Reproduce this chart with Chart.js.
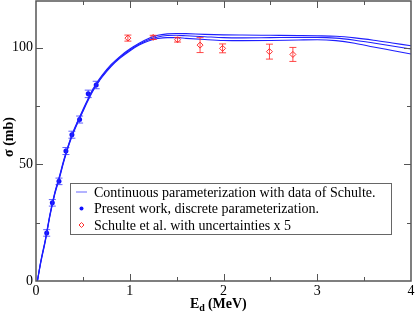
<!DOCTYPE html>
<html>
<head>
<title>sigma vs Ed</title>
<script src="https://cdn.jsdelivr.net/npm/chart.js"></script>
<style>
  html, body { margin: 0; padding: 0; background: #fff; }
  #wrap { width: 415px; height: 315px; }
</style>
</head>
<body>
<div id="wrap"><canvas id="sigmaChart" width="415" height="315"></canvas></div>
<script>
// axis ticks
const xTicks = [0, 1, 2, 3, 4];
const xMinor = [0.5, 1.5, 2.5, 3.5];
const yTicks = [0, 50, 100];
const yMinor = [25, 75];

// continuous parameterization (three curves)
const curveX = [0.015, 0.05, 0.1, 0.15, 0.2, 0.25, 0.3, 0.35, 0.4, 0.45, 0.5, 0.55, 0.6, 0.65, 0.7, 0.8, 0.9, 1.0, 1.1, 1.2, 1.3, 1.4, 1.5, 1.6, 1.8, 2.0, 2.2, 2.5, 2.8, 3.0, 3.2, 3.4, 3.6, 3.8, 4.0];
const curveMid = [0, 8, 17.5, 28.5, 37.5, 44.5, 52, 58.5, 64, 68.6, 73, 77.3, 81.3, 84.6, 87.5, 92.3, 96.0, 99.0, 101.5, 103.4, 104.6, 105.2, 105.3, 105.1, 104.7, 104.3, 104.2, 104.3, 104.4, 104.4, 104.1, 103.2, 102.0, 100.7, 99.4];
const curveUp = [0, 8.3, 17.9, 28.9, 37.9, 44.9, 52.4, 58.9, 64.4, 69.0, 73.4, 77.7, 81.7, 85.0, 87.9, 92.7, 96.4, 99.4, 101.9, 103.9, 105.3, 105.9, 106.1, 106.0, 105.7, 105.5, 105.4, 105.3, 105.2, 105.1, 104.9, 104.2, 103.2, 102.0, 100.8];
const curveLow = [0, 7.7, 17.1, 28.1, 37.1, 44.1, 51.6, 58.1, 63.6, 68.2, 72.6, 76.9, 80.9, 84.2, 87.1, 91.9, 95.6, 98.6, 101.1, 102.9, 103.9, 104.3, 104.3, 104.0, 103.5, 103.1, 103.0, 103.1, 103.3, 103.4, 103.0, 101.9, 100.3, 98.8, 97.3];

// present work, discrete parameterization
const presentE = [0.114, 0.174, 0.245, 0.319, 0.383, 0.465, 0.557, 0.642];
const presentS = [20.6, 33.5, 42.7, 55.7, 62.7, 69.2, 80.2, 84.0];
const presentErr = [1.4, 1.4, 1.4, 1.5, 1.5, 1.5, 1.6, 1.6];

// Schulte et al. (uncertainties x 5)
const schulteE = [0.98, 1.25, 1.51, 1.75, 1.99, 2.49, 2.74];
const schulteS = [104.1, 104.4, 103.4, 101.1, 99.7, 98.3, 97.1];
const schulteErr = [1.3, 0.9, 1.0, 3.2, 1.9, 3.2, 3.0];

const labels = [
  'Continuous parameterization with data of Schulte.',
  'Present work, discrete parameterization.',
  'Schulte et al. with uncertainties x 5'
];

const serif = "'Liberation Serif', 'DejaVu Serif', serif";
const frameColor = '#555';

function pts(xs, ys) {
  return xs.map((x, i) => ({ x: x, y: ys[i] }));
}

function curveSet(ys, label) {
  return {
    label: label,
    data: pts(curveX, ys),
    showLine: true,
    borderColor: '#1e1eff',
    borderWidth: 1.1,
    pointRadius: 0,
    fill: false,
    cubicInterpolationMode: 'monotone'
  };
}

// error bars, frame ticks, axis titles, legend box
const extras = {
  id: 'extras',
  afterDatasetsDraw(chart) {
    const ctx = chart.ctx;
    const xs = chart.scales.x, ys = chart.scales.y;
    const bars = (E, S, Err, color, cap) => {
      ctx.save();
      ctx.strokeStyle = color;
      ctx.lineWidth = 1;
      E.forEach((e, i) => {
        const px = xs.getPixelForValue(e);
        const top = ys.getPixelForValue(S[i] + Err[i]);
        const bot = ys.getPixelForValue(S[i] - Err[i]);
        ctx.beginPath();
        ctx.moveTo(px, top); ctx.lineTo(px, bot);
        ctx.moveTo(px - cap, top); ctx.lineTo(px + cap, top);
        ctx.moveTo(px - cap, bot); ctx.lineTo(px + cap, bot);
        ctx.stroke();
      });
      ctx.restore();
    };
    bars(presentE, presentS, presentErr, 'rgba(40,40,255,0.75)', 3.5);
    bars(schulteE, schulteS, schulteErr, 'rgba(255,40,40,0.85)', 3.5);
  },
  afterDraw(chart) {
    const ctx = chart.ctx;
    const a = chart.chartArea;
    const xs = chart.scales.x, ys = chart.scales.y;
    ctx.save();
    // frame
    ctx.strokeStyle = frameColor;
    ctx.lineWidth = 1.5;
    ctx.strokeRect(a.left, a.top, a.right - a.left, a.bottom - a.top);
    // inward ticks on all sides
    ctx.lineWidth = 1;
    ctx.beginPath();
    const xt = (v, len) => {
      const p = Math.round(xs.getPixelForValue(v)) + 0.5;
      ctx.moveTo(p, a.bottom); ctx.lineTo(p, a.bottom - len);
      ctx.moveTo(p, a.top); ctx.lineTo(p, a.top + len);
    };
    const yt = (v, len) => {
      const p = Math.round(ys.getPixelForValue(v)) + 0.5;
      ctx.moveTo(a.left, p); ctx.lineTo(a.left + len, p);
      ctx.moveTo(a.right, p); ctx.lineTo(a.right - len, p);
    };
    xTicks.slice(1, -1).forEach(v => xt(v, 7));
    xMinor.forEach(v => xt(v, 4));
    yTicks.slice(1).forEach(v => yt(v, 7));
    yMinor.forEach(v => yt(v, 4));
    ctx.stroke();

    // axis titles
    ctx.fillStyle = '#000';
    ctx.font = 'bold 14px ' + serif;
    ctx.textBaseline = 'alphabetic';
    ctx.save();
    ctx.translate(13, 137);
    ctx.rotate(-Math.PI / 2);
    ctx.textAlign = 'center';
    ctx.fillText('\u03c3 (mb)', 0, 0);
    ctx.restore();

    ctx.textAlign = 'left';
    let tx = 190, ty = 308;
    ctx.fillText('E', tx, ty);
    tx += ctx.measureText('E').width;
    ctx.font = 'bold 10px ' + serif;
    ctx.fillText('d', tx, ty + 3);
    tx += ctx.measureText('d').width + 3;
    ctx.font = 'bold 14px ' + serif;
    ctx.fillText('(MeV)', tx, ty);

    // legend
    const lx = 70.5, ly = 183.5, lw = 321, lh = 51;
    ctx.fillStyle = '#fff';
    ctx.fillRect(lx, ly, lw, lh);
    ctx.strokeStyle = '#666';
    ctx.lineWidth = 1;
    ctx.strokeRect(lx, ly, lw, lh);
    const rows = [192, 208.5, 225];
    ctx.font = '14px ' + serif;
    ctx.textBaseline = 'middle';
    ctx.fillStyle = '#000';
    labels.forEach((t, i) => ctx.fillText(t, 94, rows[i] + 1));
    // legend markers
    ctx.strokeStyle = '#9a9aff';
    ctx.lineWidth = 1.5;
    ctx.beginPath();
    ctx.moveTo(76, rows[0]); ctx.lineTo(87, rows[0]);
    ctx.stroke();
    ctx.fillStyle = '#1010ff';
    ctx.beginPath();
    ctx.arc(81.5, rows[1], 2, 0, Math.PI * 2);
    ctx.fill();
    ctx.strokeStyle = '#ff3030';
    ctx.lineWidth = 1;
    ctx.beginPath();
    ctx.moveTo(81.5, rows[2] - 2.5); ctx.lineTo(84, rows[2]);
    ctx.lineTo(81.5, rows[2] + 2.5); ctx.lineTo(79, rows[2]);
    ctx.closePath();
    ctx.stroke();
    ctx.restore();
  }
};

const ctx = document.getElementById('sigmaChart').getContext('2d');
new Chart(ctx, {
  type: 'scatter',
  data: {
    datasets: [
      curveSet(curveUp, labels[0]),
      curveSet(curveMid, ''),
      curveSet(curveLow, ''),
      {
        label: labels[1],
        data: pts(presentE, presentS),
        pointStyle: 'circle',
        pointRadius: 2.5,
        pointBackgroundColor: '#1010ff',
        pointBorderColor: '#1010ff',
        pointBorderWidth: 0
      },
      {
        label: labels[2],
        data: pts(schulteE, schulteS),
        pointStyle: 'rectRot',
        pointRadius: 3,
        pointBackgroundColor: 'rgba(0,0,0,0)',
        pointBorderColor: '#ff3030',
        pointBorderWidth: 1
      }
    ]
  },
  options: {
    responsive: false,
    animation: false,
    layout: { autoPadding: false, padding: { left: 0, right: 4, top: 1, bottom: 0 } },
    plugins: {
      legend: { display: false },
      tooltip: { enabled: false }
    },
    scales: {
      x: {
        type: 'linear',
        min: 0,
        max: 4,
        afterBuildTicks: s => { s.ticks = xTicks.map(v => ({ value: v })); },
        afterFit: s => { s.height = 34; s.paddingLeft = 0; s.paddingRight = 0; },
        grid: { display: false, drawTicks: false },
        border: { display: false },
        ticks: { color: '#000', padding: 2, maxRotation: 0, font: { family: serif, size: 14 } }
      },
      y: {
        type: 'linear',
        min: 0,
        max: 120,
        afterBuildTicks: s => { s.ticks = yTicks.map(v => ({ value: v })); },
        afterFit: s => { s.width = 36; s.paddingTop = 0; s.paddingBottom = 0; },
        grid: { display: false, drawTicks: false },
        border: { display: false },
        ticks: { color: '#000', padding: 3, font: { family: serif, size: 14 } }
      }
    }
  },
  plugins: [extras]
});
</script>
</body>
</html>
